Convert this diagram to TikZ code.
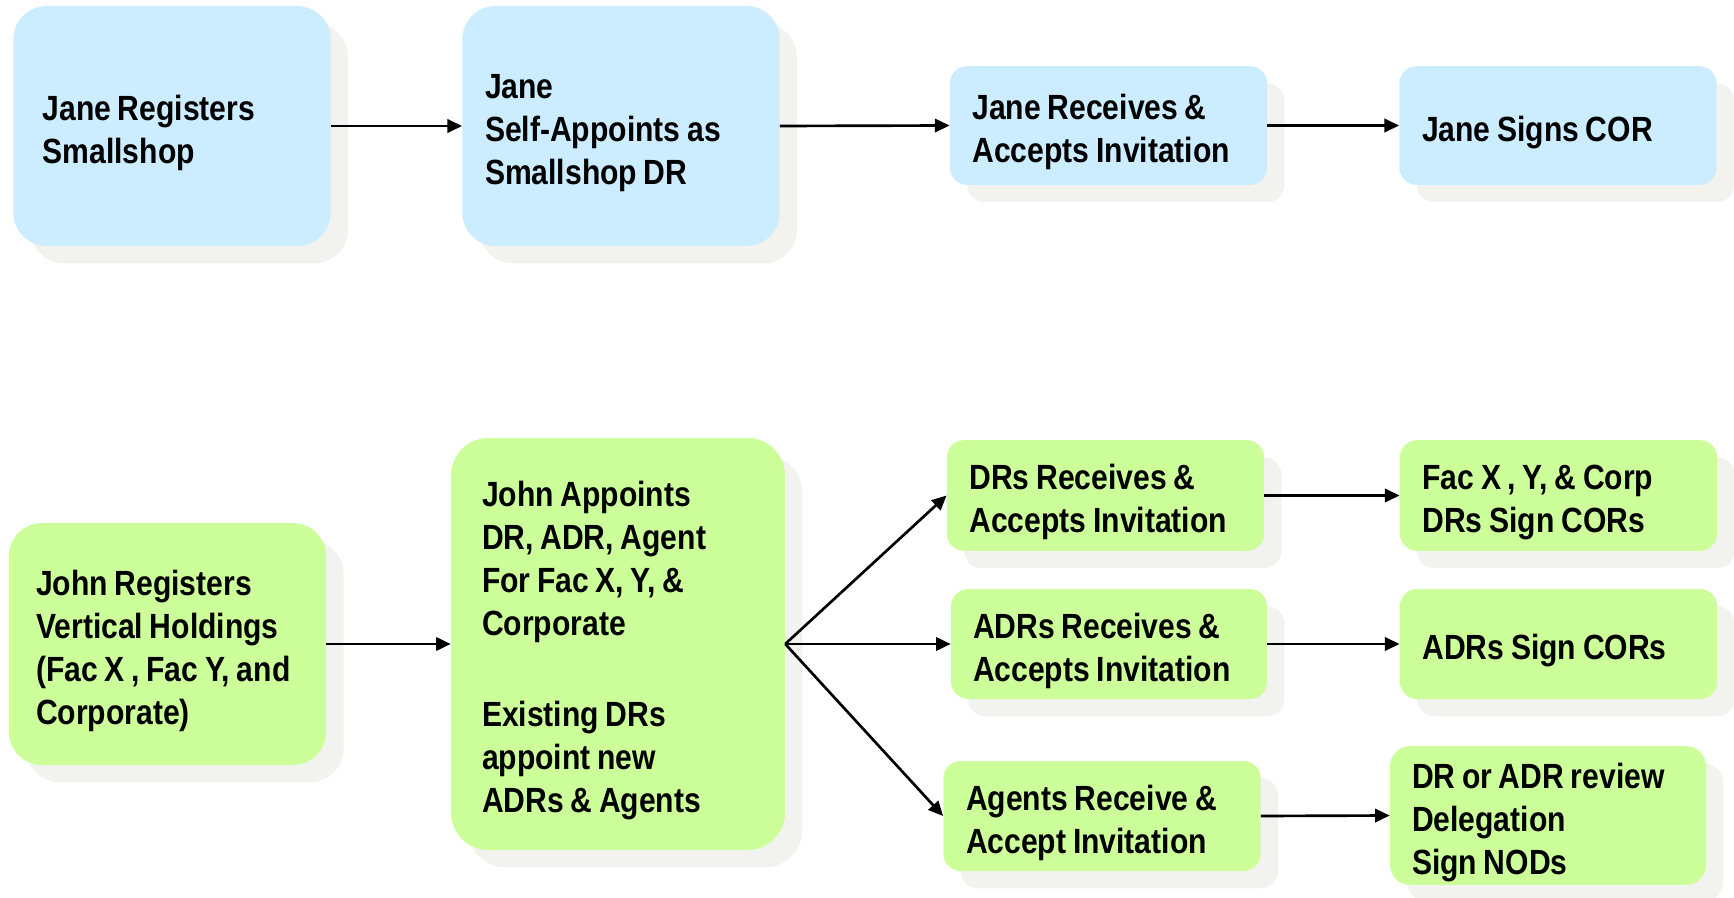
\documentclass[tikz,border=0pt]{standalone}
\usepackage{fontspec}
\setmainfont{Liberation Sans}[FakeStretch=0.86,WordSpace=0.8]
\usetikzlibrary{arrows.meta}
\usetikzlibrary{shadows}

\begin{document}
\begin{tikzpicture}[x=0.75pt,y=0.75pt,yscale=-1,xscale=1,
  flowbox/.style={text width=204pt, align=flush left, inner xsep=0pt, inner ysep=0pt,
    font=\fontsize{26.25pt}{32.25pt}\selectfont\bfseries,
    execute at begin node={\rule{0pt}{29pt}},
    drop shadow={shadow xshift=13pt, shadow yshift=-13pt, fill={rgb, 255:red, 242; green, 242; blue, 238}, opacity=1}},
  bluebox/.style={flowbox, fill={rgb, 255:red, 204; green, 236; blue, 255}},
  greenbox/.style={flowbox, fill={rgb, 255:red, 204; green, 255; blue, 153}},
  flowarrow/.style={line width=2pt, -{Triangle[length=11pt,width=10pt]}}]
\useasboundingbox (0,0) rectangle (1734,898);

%Jane row
\node [bluebox, minimum width=238pt, minimum height=180pt, rounded corners=25pt, text width=194pt] (b1) at (172,126) {Jane Registers\\Smallshop};
\node [bluebox, minimum width=238pt, minimum height=180pt, rounded corners=25pt] (b2) at (621,126) {Jane\\Self-Appoints as\\Smallshop DR};
\node [bluebox, minimum width=238pt, minimum height=89pt, rounded corners=13pt] (b3) at (1108.5,125.5) {Jane Receives \&\\Accepts Invitation};
\node [bluebox, minimum width=238pt, minimum height=89pt, rounded corners=13pt] (b4) at (1558,125.5) {Jane Signs COR};

%John row
\node [greenbox, minimum width=238pt, minimum height=181.5pt, rounded corners=25pt, text width=197pt] (b5) at (167.5,644) {John Registers\\Vertical Holdings\\(Fac X , Fac Y, and\\Corporate)};
\node [greenbox, minimum width=250.5pt, minimum height=309pt, rounded corners=28pt] (b6) at (618,644) {John Appoints\\DR, ADR, Agent\\For Fac X, Y, \&\\Corporate\\[36pt]Existing DRs\\appoint new\\ADRs \& Agents};
\node [greenbox, minimum width=238pt, minimum height=83pt, rounded corners=13pt] (b7) at (1105.5,495.5) {DRs Receives \&\\Accepts Invitation};
\node [greenbox, minimum width=238pt, minimum height=83pt, rounded corners=13pt] (b8) at (1558.5,495.5) {Fac X , Y, \& Corp\\DRs Sign CORs};
\node [greenbox, minimum width=237pt, minimum height=82.5pt, rounded corners=13pt] (b9) at (1109,644) {ADRs Receives \&\\Accepts Invitation};
\node [greenbox, minimum width=238pt, minimum height=82.5pt, rounded corners=13pt] (b10) at (1558.5,644) {ADRs Sign CORs};
\node [greenbox, minimum width=238pt, minimum height=82.5pt, rounded corners=13pt] (b11) at (1102,816) {Agents Receive \&\\Accept Invitation};
\node [greenbox, minimum width=237pt, minimum height=104pt, rounded corners=15pt] (b12) at (1548,815.5) {DR or ADR review\\Delegation\\Sign NODs};

%Arrows
\draw [flowarrow] (b1.east) -- (b2.west);
\draw [flowarrow] (b2.east) -- (b3.west);
\draw [flowarrow] (b3.east) -- (b4.west);
\draw [flowarrow] (b5.east) -- (b6.west);
\draw [flowarrow] (b6.east) -- (b7.west);
\draw [flowarrow] (b6.east) -- (b9.west);
\draw [flowarrow] (b6.east) -- (b11.west);
\draw [flowarrow] (b7.east) -- (b8.west);
\draw [flowarrow] (b9.east) -- (b10.west);
\draw [flowarrow] (b11.east) -- (b12.west);

\end{tikzpicture}
\end{document}
